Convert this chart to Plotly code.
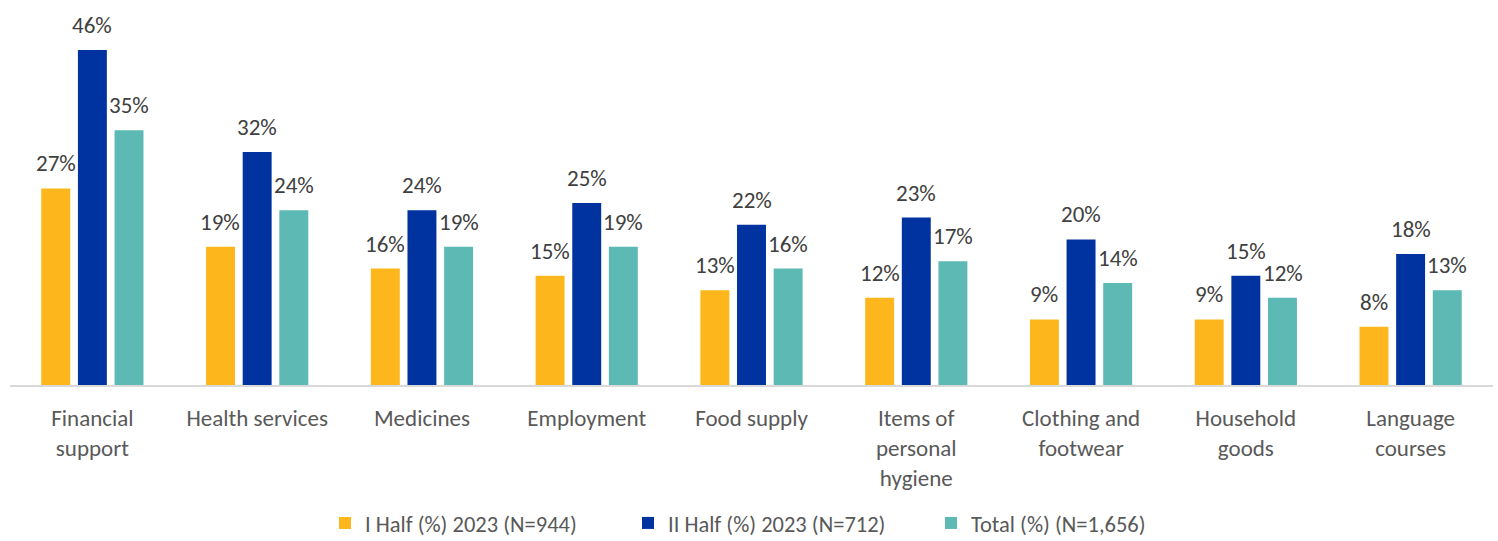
import plotly.graph_objects as go

categories = [
    "Financial<br>support", "Health services", "Medicines", "Employment",
    "Food supply", "Items of<br>personal<br>hygiene", "Clothing and<br>footwear",
    "Household<br>goods", "Language<br>courses",
]
first_half = [27, 19, 16, 15, 13, 12, 9, 9, 8]
second_half = [46, 32, 24, 25, 22, 23, 20, 15, 18]
total = [35, 24, 19, 19, 16, 17, 14, 12, 13]

series_names = [
    "I Half (%) 2023 (N=944)",
    "II Half (%) 2023 (N=712)",
    "Total (%) (N=1,656)",
]
series_values = [first_half, second_half, total]
series_colors = ["#FDB71D", "#0033A0", "#5DB9B4"]

FONT = "Carlito, Lato, Calibri, sans-serif"
SLOT_PX = 36.75  # horizontal distance between neighbouring bars in a group

fig = go.Figure()
annotations = []
for i, (name, vals, col) in enumerate(zip(series_names, series_values, series_colors)):
    fig.add_trace(go.Bar(
        x=categories, y=vals, name=name,
        marker=dict(color=col, line=dict(width=0)),
    ))
    # value labels floating above each bar
    for cat, v in zip(categories, vals):
        annotations.append(dict(
            x=cat, y=v, xref="x", yref="y", text=f"{v}%",
            showarrow=False, xanchor="center", yanchor="middle",
            xshift=(i - 1) * SLOT_PX, yshift=25,
            font=dict(family=FONT, size=23, color="#404040"),
        ))

fig.update_layout(
    width=1498, height=541,
    margin=dict(l=10, r=5, t=21, b=156, autoexpand=False),
    paper_bgcolor="white", plot_bgcolor="white",
    barmode="group", bargap=0.333, bargroupgap=0.21,
    font=dict(family=FONT, color="#595959"),
    showlegend=True,
    annotations=annotations,
    legend=dict(
        orientation="h", x=0.2124, xanchor="left",
        y=-0.38, yanchor="middle",
        font=dict(family=FONT, size=22.5, color="#595959"),
        itemwidth=30, traceorder="normal",
        entrywidth=258, entrywidthmode="pixels",
    ),
    xaxis=dict(
        showline=True, linecolor="#D9D9D9", linewidth=1.5,
        ticks="", ticklabelstandoff=12,
        tickfont=dict(family=FONT, size=23, color="#595959"),
        showgrid=False,
    ),
    yaxis=dict(range=[0, 50], visible=False, showgrid=False, zeroline=False),
)

fig.write_html("out.html")
